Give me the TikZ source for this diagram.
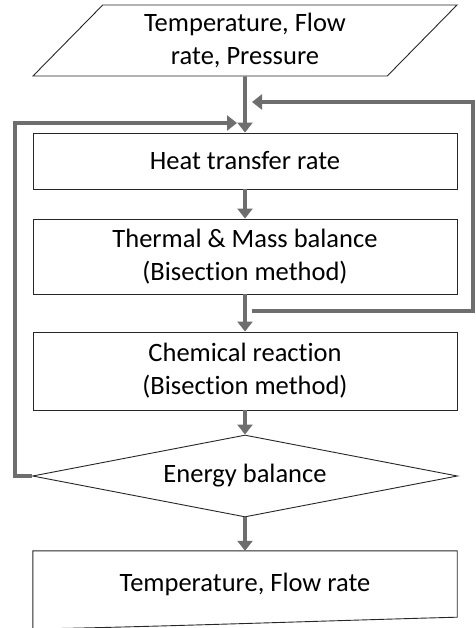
\documentclass[tikz,border=0pt]{standalone}
\usepackage{fontspec}
\setmainfont{Carlito}[Ligatures=NoCommon]
\usetikzlibrary{shapes.geometric, arrows.meta}
\definecolor{flowgray}{HTML}{6E6E6E}

\begin{document}
\begin{tikzpicture}[
    x=1pt, y=-1pt, % pixel units, y runs downwards
    every node/.style={font=\fontsize{26.5}{33}\selectfont, align=center},
    proc box/.style={draw=black!85, line width=0.9pt, minimum width=424pt, inner sep=0pt},
    flow line/.style={draw=flowgray, line width=3.8pt},
    flow arrow/.style={flow line, -{Triangle[length=10pt, width=15pt]}}
]

    % --- 1. FRAME ---
    \useasboundingbox (0,0) rectangle (475,628);

    \def\xMid{245}
    \def\xLeftLoop{15}
    \def\xRightLoop{473}

    % --- 2. INPUT AND PROCESS BLOCKS ---
    \node[trapezium, trapezium left angle=42, trapezium right angle=138,
          draw=black!85, line width=0.9pt, inner xsep=2pt, inner ysep=4pt,
          minimum width=424pt, minimum height=71pt, trapezium stretches body] (inputs) at (\xMid,40.5)
          {Temperature, Flow\\rate, Pressure};

    \node[proc box, minimum height=56pt] (heat) at (\xMid,161) {Heat transfer rate};
    \node[proc box, minimum height=75pt] (thermal) at (\xMid,256.5)
          {Thermal \& Mass balance\\(Bisection method)};
    \node[proc box, minimum height=78pt] (chem) at (\xMid,371)
          {Chemical reaction\\(Bisection method)};

    % --- 3. DECISION ---
    \node[diamond, draw=black!85, line width=0.9pt, aspect=5.2, inner sep=0pt,
          minimum width=425pt, minimum height=82pt] (energy) at (\xMid,476) {Energy balance};

    % --- 4. OUTPUT (document shape) ---
    \node[minimum width=424pt, minimum height=66pt, inner sep=0pt] (outputs) at (\xMid,584)
          {Temperature, Flow rate};
    \draw[draw=black!85, line width=0.9pt]
        (outputs.south west) ++(0,12) -- (outputs.north west) -- (outputs.north east)
        -- (outputs.south east) .. controls (350,620) and (150,627) .. (33,629);

    % --- 5. MAIN FLOW ---
    \draw[flow arrow] (inputs.south) -- (heat.north);
    \draw[flow arrow] (heat) -- (thermal);
    \draw[flow arrow] (thermal) -- (chem);
    \draw[flow arrow] (chem) -- (energy);
    \draw[flow arrow] (energy) -- (outputs);

    % --- 6. FEEDBACK LOOPS ---
    \coordinate (leftIn) at (237,123);
    \coordinate (rightIn) at (252,102);
    \draw[flow arrow] (energy.west) -| (\xLeftLoop,123) -- (leftIn);
    \draw[flow arrow] (252,311) -| (\xRightLoop,102) -- (rightIn);

\end{tikzpicture}
\end{document}
